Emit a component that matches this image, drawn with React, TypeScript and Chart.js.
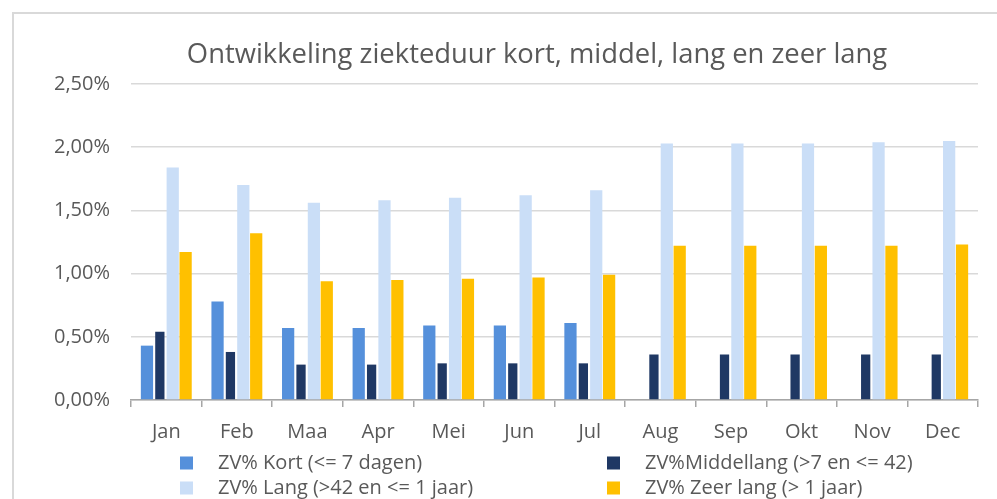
import React, { useEffect, useRef } from "react";
import { Chart, registerables } from "chart.js";

Chart.register(...registerables);

const months = ["Jan", "Feb", "Maa", "Apr", "Mei", "Jun", "Jul", "Aug", "Sep", "Okt", "Nov", "Dec"];
const seriesLabels = [
  "ZV% Kort (<= 7 dagen)",
  "ZV%Middellang (>7 en <= 42)",
  "ZV% Lang (>42 en <= 1 jaar)",
  "ZV% Zeer lang (> 1 jaar)",
];
const kort = [0.43, 0.78, 0.57, 0.57, 0.59, 0.59, 0.61, null, null, null, null, null];
const middellang = [0.54, 0.38, 0.28, 0.28, 0.29, 0.29, 0.29, 0.36, 0.36, 0.36, 0.36, 0.36];
const lang = [1.84, 1.7, 1.56, 1.58, 1.6, 1.62, 1.66, 2.03, 2.03, 2.03, 2.04, 2.05];
const zeerLang = [1.17, 1.32, 0.94, 0.95, 0.96, 0.97, 0.99, 1.22, 1.22, 1.22, 1.22, 1.23];
const yTicks = [0, 0.5, 1, 1.5, 2, 2.5];
const chartTitle = "Ontwikkeling ziekteduur kort, middel, lang en zeer lang";

const colors = ["#5590DB", "#1F3864", "#CADEF7", "#FFC000"];
const FONT = "'Open Sans', sans-serif";
const TEXT = "#595959";

const framePlugin = {
  id: "frame",
  beforeDraw(chart: any) {
    const { ctx, width, height } = chart;
    ctx.save();
    ctx.strokeStyle = "#d9d9d9";
    ctx.lineWidth = 2;
    ctx.beginPath();
    ctx.moveTo(13, height);
    ctx.lineTo(13, 13);
    ctx.lineTo(width, 13);
    ctx.stroke();
    ctx.restore();
  },
};

const titlePlugin = {
  id: "customTitle",
  afterDraw(chart: any) {
    const { ctx } = chart;
    ctx.save();
    ctx.font = `27.4px ${FONT}`;
    ctx.fillStyle = TEXT;
    ctx.textAlign = "center";
    ctx.textBaseline = "alphabetic";
    ctx.fillText(chartTitle, 537, 63);
    ctx.restore();
  },
};

const legendPlugin = {
  id: "customLegend",
  afterDraw(chart: any) {
    const { ctx, chartArea } = chart;
    const colX = [chartArea.left + 49, chartArea.left + 476];
    const rowY = [463, 488];
    const box = 13;
    ctx.save();
    ctx.font = `20px ${FONT}`;
    ctx.textBaseline = "middle";
    ctx.textAlign = "left";
    chart.data.datasets.forEach((ds: any, i: number) => {
      const x = colX[i % 2];
      const y = rowY[Math.floor(i / 2)];
      ctx.fillStyle = ds.backgroundColor;
      ctx.fillRect(x, y - box / 2, box, box);
      ctx.fillStyle = TEXT;
      ctx.fillText(ds.label, x + 38, y);
    });
    ctx.restore();
  },
};

export default function App() {
  const ref = useRef<HTMLCanvasElement>(null);
  useEffect(() => {
    if (!ref.current) return;
    const data = [kort, middellang, lang, zeerLang];
    const chart = new Chart(ref.current, {
      type: "bar",
      data: {
        labels: months,
        datasets: data.map((d, i) => ({
          label: seriesLabels[i],
          data: d as any,
          backgroundColor: colors[i],
          borderWidth: 0,
          barPercentage: i === 1 ? 0.72 : 0.95,
          categoryPercentage: 0.73,
        })),
      },
      options: {
        responsive: false,
        animation: false,
        layout: { padding: { left: 0, right: 19, top: 84, bottom: 42 } },
        plugins: {
          legend: { display: false },
          tooltip: { enabled: false },
          title: { display: false },
        },
        scales: {
          x: {
            offset: true,
            grid: {
              offset: true,
              drawOnChartArea: false,
              drawTicks: true,
              tickLength: 7,
              color: "#a6a6a6",
              lineWidth: 1.5,
            },
            border: { display: true, color: "#a6a6a6", width: 1.5 },
            ticks: { color: TEXT, font: { family: FONT, size: 20 }, padding: 13 },
          },
          y: {
            min: 0,
            max: 2.5,
            afterFit(scale: any) {
              scale.width = 131;
            },
            afterBuildTicks(scale: any) {
              scale.ticks = yTicks.map((v) => ({ value: v }));
            },
            grid: { color: "#d9d9d9", lineWidth: 1.5, drawTicks: false },
            border: { display: false },
            ticks: {
              color: TEXT,
              font: { family: FONT, size: 20 },
              padding: 21,
              callback: (v: any) => Number(v).toFixed(2).replace(".", ",") + "%",
            },
          },
        },
      },
      plugins: [framePlugin, titlePlugin, legendPlugin],
    });
    return () => chart.destroy();
  }, []);
  return (
    <div style={{ position: "fixed", left: 0, top: 0, width: 997, height: 499, background: "#fff" }}>
      <canvas ref={ref} width={997} height={499} style={{ display: "block" }} />
    </div>
  );
}
